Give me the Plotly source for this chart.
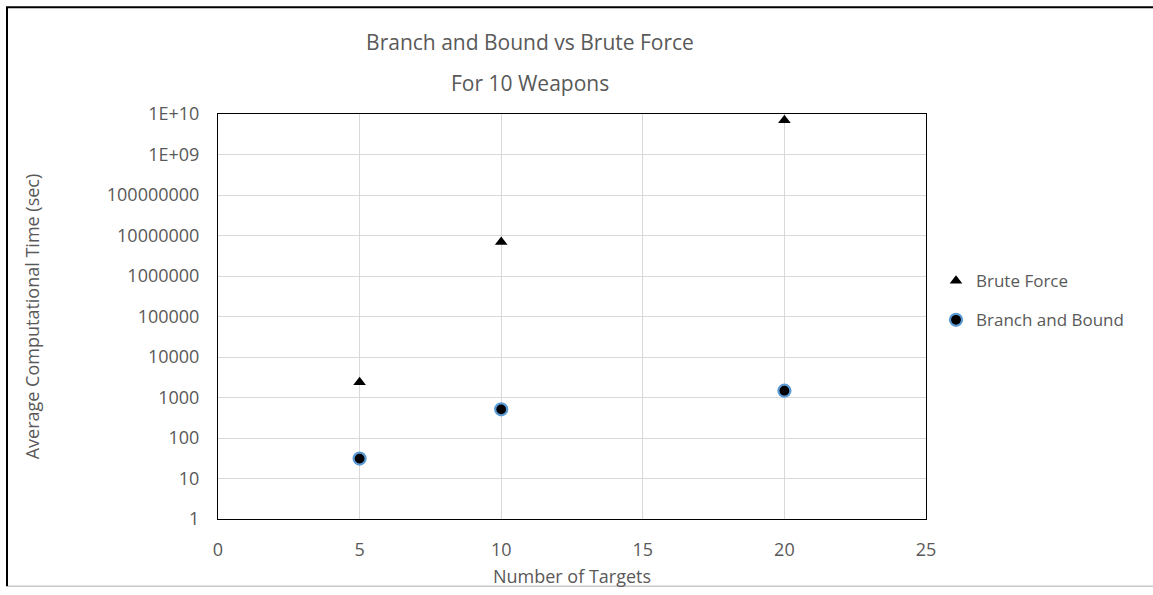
import plotly.graph_objects as go

targets = [5, 10, 20]
brute_force = [2370, 6.9e6, 7.0e9]
branch_bound = [31, 510, 1470]

y_tickvals = [1, 10, 100, 1000, 10000, 100000, 1000000, 10000000, 100000000, 1e9, 1e10]
y_ticktext = ["1", "10", "100", "1000", "10000", "100000", "1000000", "10000000",
              "100000000", "1E+09", "1E+10"]
x_tickvals = [0, 5, 10, 15, 20, 25]

gray = "#595959"
font = "Open Sans"

fig = go.Figure()
fig.add_trace(go.Scatter(
    x=targets, y=brute_force, mode="markers", name="Brute Force",
    legendgroup="a",
    marker=dict(symbol="triangle-up", size=11, color="black", line=dict(width=0)),
))
fig.add_trace(go.Scatter(
    x=targets, y=branch_bound, mode="markers", name="Branch and Bound",
    legendgroup="b",
    marker=dict(symbol="circle", size=12, color="black",
                line=dict(width=2.2, color="#5B9BD5")),
))

W, H = 1153, 595
L, R, T, B = 218, 227, 114, 71
pw = W - L - R
ph = H - T - B

def px_x(p):
    return (p - L) / pw

def px_y(p):
    return (H - B - p) / ph

fig.update_layout(
    width=W, height=H,
    margin=dict(l=L, r=R, t=T, b=B),
    paper_bgcolor="white", plot_bgcolor="white",
    font=dict(family=font, color=gray, size=17),
    title=dict(
        text="Branch and Bound vs Brute Force",
        x=530 / W, xanchor="center", y=1 - 43 / H, yanchor="middle",
        font=dict(size=21, color=gray, family=font),
    ),
    showlegend=True,
    legend=dict(
        x=px_x(936), xanchor="left",
        y=px_y(265), yanchor="top",
        font=dict(size=17, color=gray, family=font),
        tracegroupgap=14,
        itemwidth=30,
        bgcolor="rgba(0,0,0,0)",
    ),
    xaxis=dict(
        range=[0, 25], tickvals=x_tickvals, ticks="",
        showgrid=True, gridcolor="#d9d9d9", gridwidth=1,
        showline=True, linecolor="black", linewidth=1, mirror=True,
        zeroline=False,
        tickfont=dict(size=18, color=gray),
        ticklabelstandoff=14,
        title=dict(text="Number of Targets", font=dict(size=18, color=gray), standoff=10),
    ),
    yaxis=dict(
        type="log", range=[0, 10], tickvals=y_tickvals, ticktext=y_ticktext, ticks="",
        showgrid=True, gridcolor="#d9d9d9", gridwidth=1,
        showline=True, linecolor="black", linewidth=1, mirror=True,
        zeroline=False,
        tickfont=dict(size=18, color=gray),
        ticklabelstandoff=14,
        title=dict(text="Average Computational Time (sec)", font=dict(size=18, color=gray), standoff=62),
    ),
)

fig.add_annotation(
    text="For 10 Weapons", xref="paper", yref="paper",
    x=px_x(530), y=px_y(83), xanchor="center", yanchor="middle",
    showarrow=False, font=dict(size=21, color=gray, family=font),
)

# Outer chart frame: black left/top edges, light gray bottom edge
fig.add_shape(type="line", xref="paper", yref="paper",
              x0=px_x(7), x1=px_x(7), y0=px_y(592), y1=px_y(6),
              line=dict(color="black", width=2))
fig.add_shape(type="line", xref="paper", yref="paper",
              x0=px_x(6), x1=px_x(1153), y0=px_y(6), y1=px_y(6),
              line=dict(color="black", width=2))
fig.add_shape(type="line", xref="paper", yref="paper",
              x0=px_x(8), x1=px_x(1153), y0=px_y(592), y1=px_y(592),
              line=dict(color="#c8c8c8", width=1.5))

fig.write_html(
    "out.html", config={"displayModeBar": False},
    post_script=(
        "document.documentElement.style.margin='0';"
        "document.documentElement.style.overflow='hidden';"
        "document.body.style.margin='0';document.body.style.padding='0';"
        "document.body.style.overflow='hidden';"
    ),
)
